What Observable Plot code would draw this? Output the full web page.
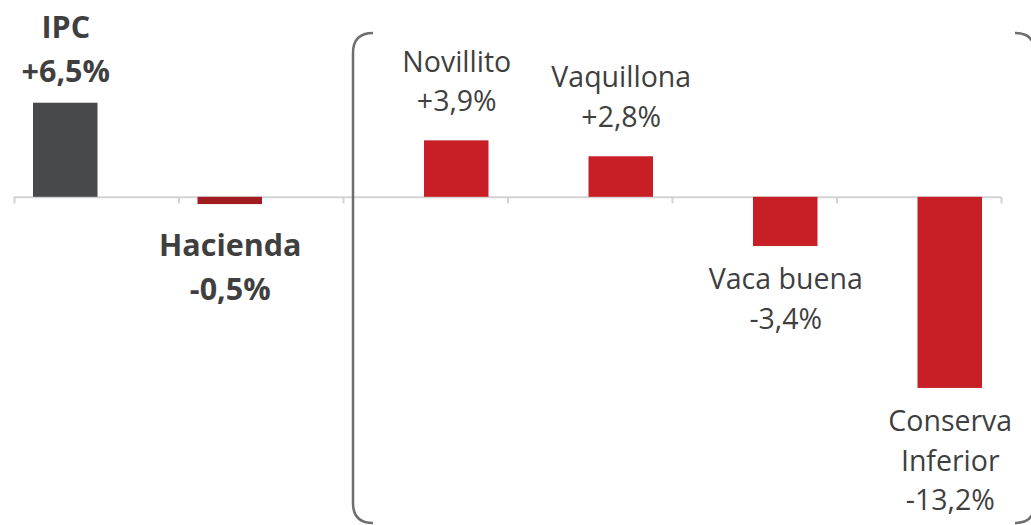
<!DOCTYPE html>
<html>
<head>
<meta charset="utf-8">
<script src="https://cdn.jsdelivr.net/npm/d3@7"></script>
<script src="https://cdn.jsdelivr.net/npm/@observablehq/plot@0.6"></script>
<style>
  html, body { margin: 0; padding: 0; background: #fff; }
  #chart svg { display: block; }
</style>
</head>
<body>
<div id="chart"></div>
<script>
// Data
const categories = ["IPC", "Hacienda", "Novillito", "Vaquillona", "Vaca buena", "Conserva Inferior"];
const displayNames = ["IPC", "Hacienda", "Novillito", "Vaquillona", "Vaca buena", "Conserva\nInferior"];
const values = [6.5, -0.5, 3.9, 2.8, -3.4, -13.2];
const groups = ["general", "general", "categoria", "categoria", "categoria", "categoria"];

const fmt = v => (v > 0 ? "+" : "-") + Math.abs(v).toFixed(1).replace(".", ",") + "%";

const data = categories.map((c, i) => ({
  i, category: c, value: values[i], group: groups[i],
  label: displayNames[i] + "\n" + fmt(values[i])
}));

const g1 = data.filter(d => d.group === "general");
const g2 = data.filter(d => d.group === "categoria");

const textColor = "#3f3f3f";
const font = "'Open Sans', sans-serif";

function bracket(index, scales, values, dimensions) {
  const ns = "http://www.w3.org/2000/svg";
  const g = document.createElementNS(ns, "g");
  const left = scales.x(2) + 10;
  const right = dimensions.width + 4;
  const top = 33, bottom = dimensions.height - 2, r = 20;
  const p = document.createElementNS(ns, "path");
  p.setAttribute("d",
    `M${left + r},${top} Q${left},${top} ${left},${top + r} L${left},${bottom - r} Q${left},${bottom} ${left + r},${bottom}` +
    ` M${right - r},${top} Q${right},${top} ${right},${top + r} L${right},${bottom - r} Q${right},${bottom} ${right - r},${bottom}`);
  p.setAttribute("fill", "none");
  p.setAttribute("stroke", "#6e6e6e");
  p.setAttribute("stroke-width", 2.5);
  g.appendChild(p);
  return g;
}

const boldOpts = extra => ({
  x: d => d.i + 0.5, y: "value", text: "label",
  fontSize: 30.5, lineHeight: 1.44, fontWeight: "bold",
  fill: textColor, textAnchor: "middle", dx: -31, ...extra
});
const regOpts = extra => ({
  x: d => d.i + 0.5, y: "value", text: "label",
  fontSize: 28.5, lineHeight: 1.38,
  fill: textColor, textAnchor: "middle", dx: 31, ...extra
});

const plot = Plot.plot({
  width: 1031,
  height: 525,
  marginLeft: 14,
  marginRight: 30,
  marginTop: 81,
  marginBottom: 111,
  style: { fontFamily: font, background: "#fff" },
  x: { type: "linear", domain: [0, categories.length], axis: null },
  y: { domain: [-15, 8], axis: null },
  color: { domain: categories, range: ["#48494b", "#a01c21", "#c81f26", "#c81f26", "#c81f26", "#c81f26"] },
  marks: [
    Plot.ruleY([0], { stroke: "#d3d3d3", strokeWidth: 2 }),
    Plot.ruleX(d3.range(categories.length + 1), { x: d => d, y1: 0, y2: -0.45, stroke: "#d3d3d3", strokeWidth: 2 }),
    Plot.rectY(g1, { x1: "i", x2: d => d.i + 1, y: "value", fill: "category", insetLeft: 19, insetRight: 81 }),
    Plot.rectY(g2, { x1: "i", x2: d => d.i + 1, y: "value", fill: "category", insetLeft: 81, insetRight: 19 }),
    Plot.text(g1.filter(d => d.value > 0), boldOpts({ lineAnchor: "bottom", dy: -21 })),
    Plot.text(g1.filter(d => d.value < 0), boldOpts({ lineAnchor: "top", dy: 20 })),
    Plot.text(g2.filter(d => d.value > 0), regOpts({ lineAnchor: "bottom", dy: -30 })),
    Plot.text(g2.filter(d => d.value < 0), regOpts({ lineAnchor: "top", dy: 15 })),
    bracket
  ]
});

document.getElementById("chart").appendChild(plot);
</script>
</body>
</html>
